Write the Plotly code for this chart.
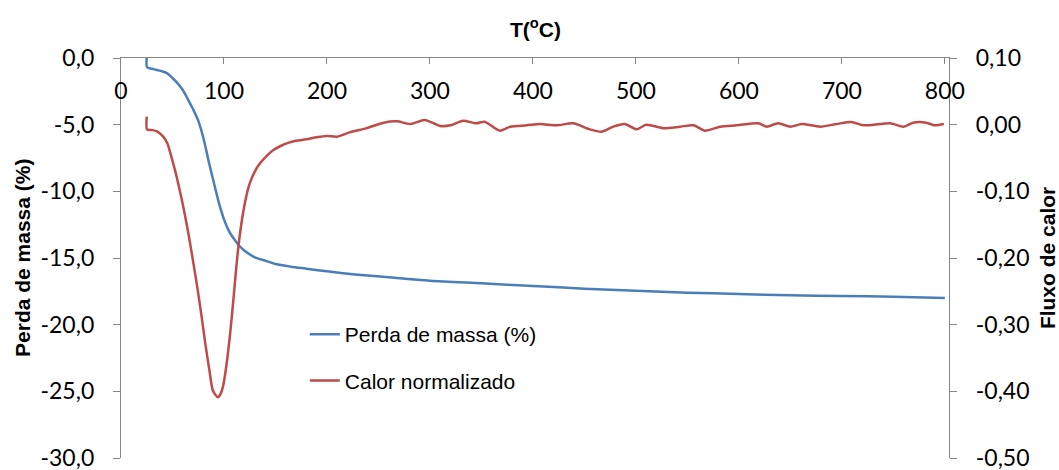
import plotly.graph_objects as go

# ---- data ----
temp_mass = [25, 25.3, 30, 35, 40, 45, 50, 55, 60, 65, 70, 75, 80, 85, 90, 95, 100, 105, 110, 115,
             120, 130, 140, 150, 165, 180, 200, 230, 260, 300, 350, 400, 450, 500, 550, 600, 650, 700, 750, 800]
mass_loss = [0.0, -0.7, -0.8, -0.9, -1.0, -1.15, -1.5, -1.9, -2.4, -3.1, -3.85, -4.7, -6.0, -7.7, -9.3, -10.85, -12.1, -13.0, -13.6, -14.1,
             -14.45, -14.95, -15.2, -15.45, -15.65, -15.8, -16.0, -16.25, -16.45, -16.7, -16.9, -17.1, -17.3, -17.45, -17.6, -17.7, -17.8, -17.85, -17.9, -18.0]

temp_heat = [25, 25.3, 30, 35, 41, 45, 48, 51, 54, 58, 62, 66, 70, 74, 78, 82, 86, 89, 92, 94,
             96, 99, 102, 106, 109, 112, 115, 119, 122, 125, 130, 135, 142, 148, 155, 163, 170, 180, 190, 200,
             210, 222, 238, 255, 268, 281, 295, 310, 321, 332, 345, 353, 368, 378, 394, 407, 423, 439, 455, 467,
             478, 489, 501, 510, 527, 543, 556, 567, 582, 598, 619, 627, 638, 650, 661, 679, 695, 709, 721, 737,
             747, 760, 769, 782, 790, 799]
heat_flow = [0.012, -0.007, -0.008, -0.010, -0.018, -0.028, -0.043, -0.060, -0.078, -0.105,
             -0.135, -0.168, -0.205, -0.243, -0.285, -0.330, -0.370, -0.398, -0.406, -0.409,
             -0.406, -0.393, -0.365, -0.313, -0.265, -0.213, -0.170, -0.128, -0.105, -0.088,
             -0.070, -0.058, -0.046, -0.038, -0.032, -0.027, -0.024, -0.022, -0.019, -0.017,
             -0.018, -0.0115, -0.0055, 0.003, 0.005, 0.001, 0.007, -0.002, -0.0005, 0.006,
             0.002, 0.0045, -0.009, -0.003, -0.001, 0.001, -0.001, 0.002, -0.007, -0.0105,
             -0.003, 0.001, -0.007, 0.0, -0.0055, -0.003, -0.001, -0.009, -0.003, -0.001,
             0.002, -0.003, 0.002, -0.003, 0.001, -0.003, 0.001, 0.004, -0.001, 0.001,
             0.002, -0.003, 0.003, 0.003, -0.001, 0.001]

x_ticks = [0, 100, 200, 300, 400, 500, 600, 700, 800]
x_ticktext = ["0", "100", "200", "300", "400", "500", "600", "700", "800"]
y1_ticks = [0, -5, -10, -15, -20, -25, -30]
y1_ticktext = ["0,0", "-5,0", "-10,0", "-15,0", "-20,0", "-25,0", "-30,0"]
y2_ticks = [0.1, 0.0, -0.1, -0.2, -0.3, -0.4, -0.5]
y2_ticktext = ["0,10", "0,00", "-0,10", "-0,20", "-0,30", "-0,40", "-0,50"]

series_names = ["Perda de massa (%)", "Calor normalizado"]
x_title = "T(<sup>o</sup>C)"
y1_title = "Perda de massa (%)"
y2_title = "Fluxo de calor"

BLUE = "#4A7EBB"
RED = "#BE4B48"
AXIS = "#868686"
TICKFONT = dict(family="Lato", size=23, color="#000000")
TITLEFONT = dict(family="Liberation Sans", size=21, color="#000000")

fig = go.Figure()
fig.add_trace(go.Scatter(x=temp_mass, y=mass_loss, mode="lines", name=series_names[0],
                         line=dict(color=BLUE, width=2.5, shape="spline", smoothing=0.8),
                         yaxis="y", legendgroup="a"))
fig.add_trace(go.Scatter(x=temp_heat, y=heat_flow, mode="lines", name=series_names[1],
                         line=dict(color=RED, width=2.5, shape="spline", smoothing=0.7),
                         yaxis="y2", legendgroup="b"))

fig.update_layout(
    width=1059, height=470,
    margin=dict(l=121, r=110, t=58, b=12),
    paper_bgcolor="white", plot_bgcolor="white",
    separators=",.",
    showlegend=True,
    legend=dict(x=0.222, y=0.36, xanchor="left", yanchor="top",
                font=dict(family="Liberation Sans", size=21, color="#000000"),
                bgcolor="rgba(0,0,0,0)", tracegroupgap=16, traceorder="grouped"),
    xaxis=dict(range=[0, 804], side="top", tickvals=x_ticks, ticktext=x_ticktext,
               ticks="inside", ticklen=6, tickcolor=AXIS, ticklabelposition="inside",
               ticklabeloverflow="allow", ticklabelstandoff=20, automargin=False,
               showline=True, linecolor=AXIS, linewidth=1.3, showgrid=False, zeroline=False,
               tickfont=TICKFONT),
    yaxis=dict(range=[-30, 0], tickvals=y1_ticks, ticktext=y1_ticktext,
               ticks="outside", ticklen=7, tickcolor=AXIS, ticklabelstandoff=14,
               ticklabeloverflow="allow", automargin=False,
               showline=True, linecolor=AXIS, linewidth=1.3, showgrid=False, zeroline=False,
               tickfont=TICKFONT),
    yaxis2=dict(range=[-0.5, 0.1], overlaying="y", side="right", tickvals=y2_ticks, ticktext=y2_ticktext,
                ticks="outside", ticklen=7, tickcolor=AXIS, ticklabelstandoff=14,
                ticklabeloverflow="allow", automargin=False,
                showline=True, linecolor=AXIS, linewidth=1.3, showgrid=False, zeroline=False,
                tickfont=TICKFONT),
    annotations=[
        dict(text="<b>" + x_title + "</b>", xref="paper", yref="paper", x=0.5, y=1.075,
             xanchor="center", yanchor="middle", showarrow=False, font=TITLEFONT),
        dict(text="<b>" + y1_title + "</b>", xref="paper", yref="paper", x=-0.1196, y=0.5,
             xanchor="center", yanchor="middle", textangle=-90, showarrow=False, font=TITLEFONT),
        dict(text="<b>" + y2_title + "</b>", xref="paper", yref="paper", x=1.1185, y=0.5,
             xanchor="center", yanchor="middle", textangle=-90, showarrow=False, font=TITLEFONT),
    ],
)

fig.write_html("out.html")
